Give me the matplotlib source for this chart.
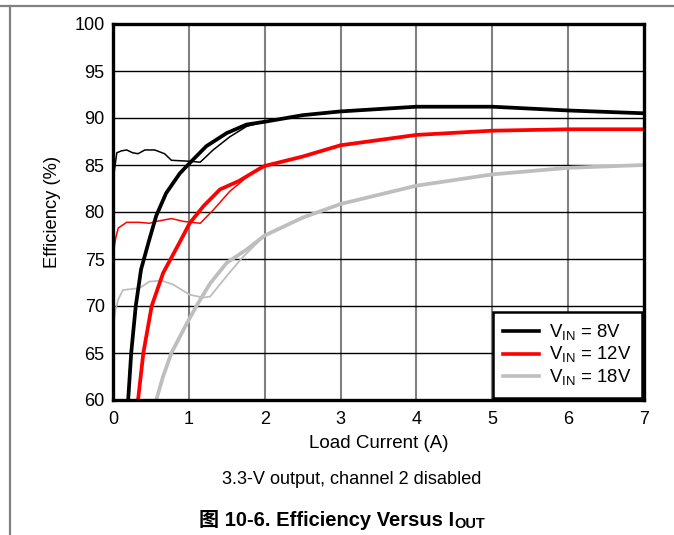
import matplotlib
matplotlib.use('Agg')
import matplotlib.pyplot as plt
from matplotlib.lines import Line2D

plt.rcParams['font.family'] = ['Liberation Sans', 'Noto Sans CJK SC', 'DejaVu Sans']
plt.rcParams['mathtext.fontset'] = 'custom'
plt.rcParams['mathtext.rm'] = 'Liberation Sans'

# VIN = 8V: heavy-load curve and light-load curve
i_8v = [0.19, 0.2, 0.24, 0.3, 0.37, 0.48, 0.57, 0.7, 0.88, 1.01, 1.23, 1.5, 1.76, 2.0, 2.5, 3.0, 4.0, 5.0, 6.0, 7.0]
e_8v = [58.0, 60.0, 65.0, 70.0, 73.9, 77.1, 79.6, 82.0, 84.1, 85.2, 87.0, 88.4, 89.3, 89.6, 90.3, 90.7, 91.2, 91.2, 90.8, 90.5]
i_8v_ll = [0.0, 0.02, 0.05, 0.11, 0.18, 0.26, 0.33, 0.42, 0.55, 0.68, 0.77, 1.01, 1.15, 1.32, 1.54, 1.76, 1.95]
e_8v_ll = [83.5, 84.5, 86.3, 86.5, 86.6, 86.3, 86.2, 86.6, 86.6, 86.2, 85.5, 85.4, 85.3, 86.6, 88.0, 89.1, 89.5]

# VIN = 12V
i_12v = [0.32, 0.33, 0.4, 0.51, 0.66, 0.9, 1.01, 1.19, 1.41, 1.66, 1.94, 2.0, 2.5, 3.0, 4.0, 5.0, 6.0, 7.0]
e_12v = [58.0, 60.0, 65.0, 70.0, 73.5, 77.1, 78.8, 80.6, 82.4, 83.3, 84.65, 84.9, 85.9, 87.1, 88.2, 88.65, 88.8, 88.8]
i_12v_ll = [0.0, 0.04, 0.07, 0.18, 0.35, 0.48, 0.57, 0.77, 0.93, 1.15, 1.32, 1.54, 1.85, 1.98]
e_12v_ll = [75.5, 77.4, 78.3, 78.9, 78.9, 78.8, 79.0, 79.3, 79.0, 78.8, 80.2, 82.2, 84.3, 84.85]

# VIN = 18V
i_18v = [0.56, 0.57, 0.66, 0.77, 0.95, 1.1, 1.28, 1.5, 1.76, 2.0, 2.5, 3.0, 4.0, 5.0, 6.0, 7.0]
e_18v = [58.5, 60.0, 62.5, 65.0, 67.8, 70.0, 72.4, 74.6, 76.0, 77.5, 79.4, 80.85, 82.8, 84.0, 84.7, 85.0]
i_18v_ll = [0.0, 0.03, 0.07, 0.13, 0.35, 0.48, 0.64, 0.79, 1.01, 1.19, 1.28, 1.5, 1.7, 1.96]
e_18v_ll = [67.5, 69.5, 70.7, 71.7, 71.9, 72.6, 72.7, 72.3, 71.2, 70.9, 71.0, 73.2, 75.1, 77.2]

legend_labels = [r'V$_{\mathregular{IN}}$ = 8V', r'V$_{\mathregular{IN}}$ = 12V', r'V$_{\mathregular{IN}}$ = 18V']
colors = ['black', '#ff0000', '#bebebe']

fig = plt.figure(figsize=(6.74, 5.35), dpi=100)
ax = fig.add_axes([113/674, 1 - 400/535, (644 - 113)/674, (400 - 24)/535])

ax.plot(i_8v_ll, e_8v_ll, color=colors[0], lw=1.1)
ax.plot(i_12v_ll, e_12v_ll, color=colors[1], lw=1.1)
ax.plot(i_18v_ll, e_18v_ll, color=colors[2], lw=1.3)
ax.plot(i_18v, e_18v, color=colors[2], lw=2.7)
ax.plot(i_12v, e_12v, color=colors[1], lw=2.7)
ax.plot(i_8v, e_8v, color=colors[0], lw=2.7)

ax.set_xlim(0, 7)
ax.set_ylim(60, 100)
ax.set_xticks(range(0, 8))
ax.set_yticks(range(60, 101, 5))
ax.tick_params(length=0, labelsize=13)
ax.tick_params(axis='x', pad=8)
ax.tick_params(axis='y', pad=6)
for x in range(1, 7):
    ax.axvline(x, color='#808080', lw=1.5, zorder=0)
for y in range(65, 100, 5):
    ax.axhline(y, color='black', lw=1.0, zorder=0)
for s in ax.spines.values():
    s.set_linewidth(2.4)

ax.set_xlabel('Load Current (A)', fontsize=13.5, labelpad=5)
ax.set_ylabel('Efficiency (%)', fontsize=13.2, labelpad=10)

handles = [Line2D([], [], color=c, lw=2.6) for c in colors]
leg = ax.legend(handles, legend_labels, loc='lower right', fontsize=13.4,
                borderaxespad=0.1, fancybox=False, handlelength=1.95,
                handletextpad=0.55, labelspacing=0.12, framealpha=1,
                borderpad=0.55)
leg.get_frame().set_edgecolor('black')
leg.get_frame().set_linewidth(1.8)

fig.text(352/674, 1 - 479/535, '3.3-V output, channel 2 disabled',
         ha='center', va='center', fontsize=13.1)

# caption title: main text plus subscript drawn as two texts
t_main = fig.text(0, 1 - 520/535, '图 10-6. Efficiency Versus I',
                  ha='left', va='center', fontsize=14.5, fontweight='bold')
t_sub = fig.text(0, 1 - 524/535, 'OUT', ha='left', va='center',
                 fontsize=10.5, fontweight='bold')
fig.canvas.draw()
r = fig.canvas.get_renderer()
w_main = t_main.get_window_extent(r).width
w_sub = t_sub.get_window_extent(r).width
x0 = 342 - (w_main + w_sub) / 2
t_main.set_x(x0 / 674)
t_sub.set_x((x0 + w_main) / 674)

# page frame lines
fig.add_artist(Line2D([0, 1], [1 - 6/535, 1 - 6/535], color='#808080', lw=1.6))
fig.add_artist(Line2D([9.5/674, 9.5/674], [0, 1 - 6/535], color='#808080', lw=1.6))

fig.savefig('out.png', dpi=100)
